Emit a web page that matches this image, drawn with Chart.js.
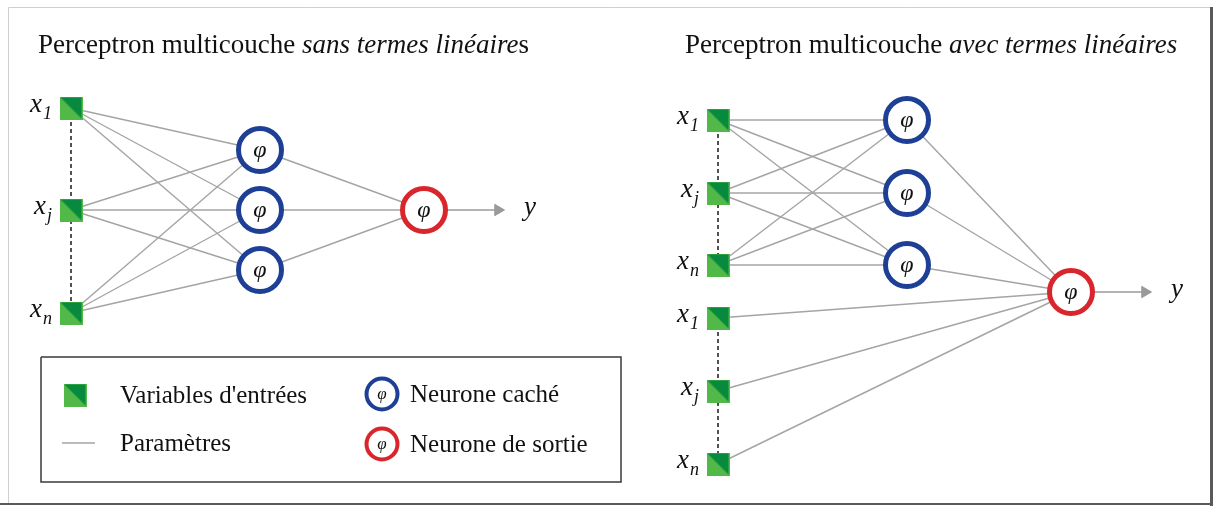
<!DOCTYPE html>
<html>
<head>
<meta charset="utf-8">
<script src="https://cdn.jsdelivr.net/npm/chart.js@4"></script>
<style>
  html, body { margin: 0; padding: 0; background: #fff; }
  #wrap { width: 1215px; height: 506px; }
</style>
</head>
<body>
<div id="wrap"><canvas id="net" width="1215" height="506"></canvas></div>
<script>
// network layout (diagram units = scale values)
const inputNames = ["1", "j", "n"];
const leftLayerX = [71, 260, 424];
const leftInputY = [108, 210, 313];
const leftHiddenY = [150, 210, 270];
const leftOutputY = 210;
const rightLayerX = [718, 907, 1071];
const rightInputY = [120, 193, 265];
const rightLinearY = [318, 391, 464];
const rightHiddenY = [120, 193, 265];
const rightOutputY = 292;
const legendLabels = ["Variables d'entrées", "Paramètres", "Neurone caché", "Neurone de sortie"];

const GREEN_LIGHT = "#52b848";
const GREEN_DARK = "#078a3d";
const BLUE = "#1d3f95";
const RED = "#d9252c";
const EDGE = "#a4a4a4";
const SERIF = "'Liberation Serif', 'DejaVu Serif', serif";

// split green square used for the input nodes
function makeSquare(size) {
    const c = document.createElement("canvas");
    c.width = size; c.height = size;
    const g = c.getContext("2d");
    g.fillStyle = GREEN_LIGHT;
    g.fillRect(0, 0, size, size);
    g.fillStyle = GREEN_DARK;
    g.beginPath();
    g.moveTo(1, 1);
    g.lineTo(size - 1, 1);
    g.lineTo(size - 1, size - 1);
    g.closePath();
    g.fill();
    return c;
}
const squareImg = makeSquare(23);

const pt = (x, y) => ({ x: x, y: y });
const datasets = [];

function edge(a, b) {
    datasets.push({
        data: [a, b], showLine: true, borderColor: EDGE, borderWidth: 1.4,
        pointRadius: 0, order: 5
    });
}
function dashed(a, b) {
    datasets.push({
        data: [a, b], showLine: true, borderColor: "#1a1a1a", borderWidth: 1.5,
        borderDash: [4, 3], pointRadius: 0, order: 4
    });
}
function arrow(a, b) {
    datasets.push({
        data: [a, b], showLine: true, borderColor: "#9a9a9a", borderWidth: 1.6,
        pointRadius: [0, 6.5], pointStyle: "triangle", rotation: 90,
        pointBackgroundColor: "#9a9a9a", pointBorderColor: "#9a9a9a", pointBorderWidth: 1, order: 4
    });
}

// left network: inputs -> hidden -> output
const leftIn = leftInputY.map(y => pt(leftLayerX[0], y));
const leftHid = leftHiddenY.map(y => pt(leftLayerX[1], y));
const leftOut = pt(leftLayerX[2], leftOutputY);
leftIn.forEach(a => leftHid.forEach(b => edge(a, b)));
leftHid.forEach(h => edge(h, leftOut));
dashed(leftIn[0], leftIn[2]);
arrow(leftOut, pt(leftLayerX[2] + 74, leftOutputY));

// right network: inputs -> hidden -> output, plus direct linear terms
const rightIn = rightInputY.map(y => pt(rightLayerX[0], y));
const rightLin = rightLinearY.map(y => pt(rightLayerX[0], y));
const rightHid = rightHiddenY.map(y => pt(rightLayerX[1], y));
const rightOut = pt(rightLayerX[2], rightOutputY);
rightIn.forEach(a => rightHid.forEach(b => edge(a, b)));
rightHid.forEach(h => edge(h, rightOut));
rightLin.forEach(l => edge(l, rightOut));
dashed(rightIn[0], rightIn[2]);
dashed(rightLin[0], rightLin[2]);
arrow(rightOut, pt(rightLayerX[2] + 74, rightOutputY));

// legend box and its symbols
const legendBox = [pt(41, 357), pt(621, 357), pt(621, 482), pt(41, 482), pt(41, 357)];
datasets.push({
    data: legendBox, showLine: true, borderColor: "#3a3a3a", borderWidth: 1.5,
    pointRadius: 0, order: 6
});
datasets.push({
    data: [pt(62, 443), pt(95, 443)], showLine: true, borderColor: EDGE, borderWidth: 1.4,
    pointRadius: 0, order: 5
});
const legendSquare = pt(75, 395);
const legendHidden = pt(382, 394);
const legendOutput = pt(382, 444);

// nodes
datasets.push({
    data: leftIn.concat(rightIn, rightLin, [legendSquare]),
    pointStyle: squareImg, pointRadius: 12, order: 0
});
datasets.push({
    data: leftHid.concat(rightHid),
    pointStyle: "circle", pointRadius: 21.5, borderWidth: 5,
    borderColor: BLUE, backgroundColor: "#fff", order: 0
});
datasets.push({
    data: [leftOut, rightOut],
    pointStyle: "circle", pointRadius: 21.5, borderWidth: 5,
    borderColor: RED, backgroundColor: "#fff", order: 0
});
datasets.push({
    data: [legendHidden],
    pointStyle: "circle", pointRadius: 15.5, borderWidth: 4,
    borderColor: BLUE, backgroundColor: "#fff", order: 0
});
datasets.push({
    data: [legendOutput],
    pointStyle: "circle", pointRadius: 15.5, borderWidth: 4,
    borderColor: RED, backgroundColor: "#fff", order: 0
});

// frame around the figure
const framePlugin = {
    id: "frame",
    beforeDraw(chart) {
        const ctx = chart.ctx;
        ctx.save();
        ctx.fillStyle = "#fff";
        ctx.fillRect(0, 0, chart.width, chart.height);
        ctx.strokeStyle = "#cfcfcf";
        ctx.lineWidth = 1;
        ctx.beginPath();
        ctx.moveTo(8.5, 504); ctx.lineTo(8.5, 7.5); ctx.lineTo(1210, 7.5);
        ctx.stroke();
        ctx.strokeStyle = "#5a5a5a";
        ctx.lineWidth = 3;
        ctx.beginPath();
        ctx.moveTo(1211.5, 7); ctx.lineTo(1211.5, 506);
        ctx.stroke();
        ctx.lineWidth = 2;
        ctx.beginPath();
        ctx.moveTo(0, 504); ctx.lineTo(1213, 504);
        ctx.stroke();
        ctx.restore();
    }
};

// all text: titles, node names, phi glyphs, legend labels
const textPlugin = {
    id: "texts",
    afterDatasetsDraw(chart) {
        const ctx = chart.ctx;
        const sx = v => chart.scales.x.getPixelForValue(v);
        const sy = v => chart.scales.y.getPixelForValue(v);
        ctx.save();
        ctx.fillStyle = "#111";
        ctx.textBaseline = "alphabetic";

        function runs(x, y, parts) {
            let cx = x;
            parts.forEach(p => {
                ctx.font = (p[1] ? "italic " : "") + "27px " + SERIF;
                ctx.fillText(p[0], cx, y);
                cx += ctx.measureText(p[0]).width;
            });
        }
        runs(38, 53, [["Perceptron multicouche ", false], ["sans termes linéaire", true], ["s", false]]);
        runs(685, 53, [["Perceptron multicouche ", false], ["avec termes linéaires", true]]);

        function varName(node, sub) {
            ctx.font = "italic 27px " + SERIF;
            const wx = ctx.measureText("x").width;
            ctx.font = "italic 18px " + SERIF;
            const ws = ctx.measureText(sub).width;
            const right = sx(node.x) - 19;
            const left = right - wx - ws - 1;
            ctx.font = "italic 27px " + SERIF;
            ctx.fillText("x", left, sy(node.y) + 4);
            ctx.font = "italic 18px " + SERIF;
            ctx.fillText(sub, left + wx + 1, sy(node.y) + 11);
        }
        leftIn.forEach((n, i) => varName(n, inputNames[i]));
        rightIn.forEach((n, i) => varName(n, inputNames[i]));
        rightLin.forEach((n, i) => varName(n, inputNames[i]));

        ctx.textAlign = "center";
        function phi(node, size) {
            ctx.font = "italic " + size + "px " + SERIF;
            ctx.fillText("φ", sx(node.x), sy(node.y) + size * 0.3);
        }
        leftHid.concat(rightHid, [leftOut, rightOut]).forEach(n => phi(n, 24));
        phi(legendHidden, 17);
        phi(legendOutput, 17);

        ctx.font = "italic 27px " + SERIF;
        ctx.fillText("y", sx(leftLayerX[2] + 106), sy(leftOutputY) + 5);
        ctx.fillText("y", sx(rightLayerX[2] + 106), sy(rightOutputY) + 5);

        ctx.textAlign = "left";
        ctx.font = "25px " + SERIF;
        ctx.fillText(legendLabels[0], sx(120), sy(legendSquare.y) + 8);
        ctx.fillText(legendLabels[1], sx(120), sy(443) + 8);
        ctx.fillText(legendLabels[2], sx(410), sy(legendHidden.y) + 8);
        ctx.fillText(legendLabels[3], sx(410), sy(legendOutput.y) + 8);
        ctx.restore();
    }
};

new Chart(document.getElementById("net").getContext("2d"), {
    type: "scatter",
    data: { datasets: datasets },
    options: {
        responsive: false,
        animation: false,
        layout: { padding: 0, autoPadding: false },
        scales: {
            x: { type: "linear", min: 0, max: 1215, display: false },
            y: { type: "linear", min: 0, max: 506, reverse: true, display: false }
        },
        plugins: { legend: { display: false }, tooltip: { enabled: false } },
        elements: { point: { hoverRadius: 0 } }
    },
    plugins: [framePlugin, textPlugin]
});
</script>
</body>
</html>
